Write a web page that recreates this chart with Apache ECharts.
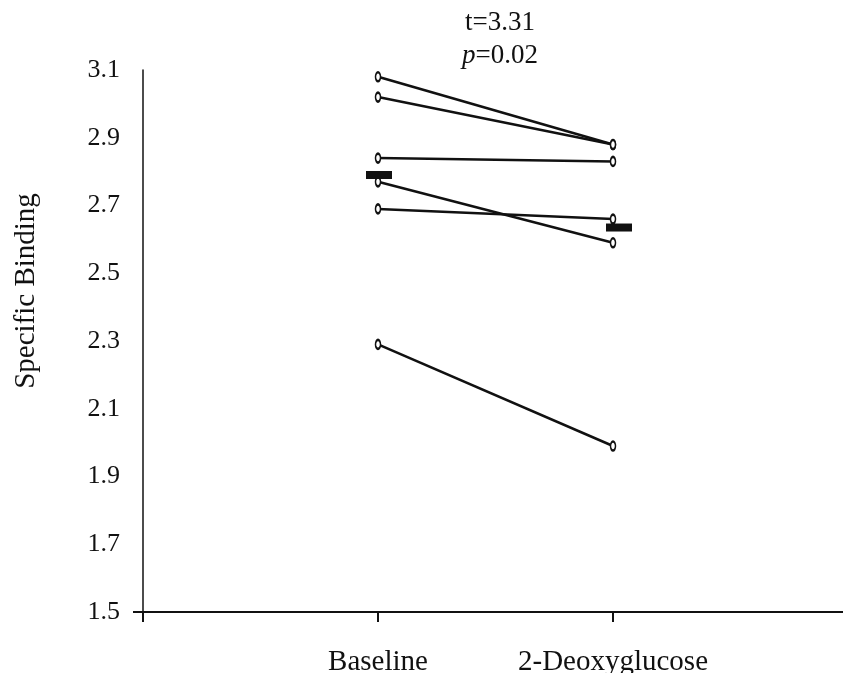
<!DOCTYPE html>
<html lang="en">
<head>
  <meta charset="UTF-8">
  <title>Specific Binding</title>
  <script src="https://cdn.jsdelivr.net/npm/echarts@6/dist/echarts.min.js"></script>
  <style>
    html, body { margin: 0; padding: 0; background: #fff; }
    #chart { width: 843px; height: 673px; }
  </style>
</head>
<body>
  <div id="chart"></div>
<script>
  // conditions along x (positions 1 and 2 on the axis)
  const conditions = ['Baseline', '2-Deoxyglucose'];
  // one value per subject
  const baseline = [3.08, 3.02, 2.84, 2.77, 2.69, 2.29];
  const deoxy = [2.88, 2.88, 2.83, 2.59, 2.66, 1.99];
  const means = [2.79, 2.635];
  const yTicks = [1.5, 1.7, 1.9, 2.1, 2.3, 2.5, 2.7, 2.9, 3.1];

  const font = '"Liberation Serif", "DejaVu Serif", serif';
  const ink = '#111';
  const chart = echarts.init(document.getElementById('chart'));

  const pairSeries = baseline.map((b, i) => ({
    type: 'line',
    data: [[1, b], [2, deoxy[i]]],
    symbol: 'emptyCircle',
    symbolSize: [5, 9],
    showSymbol: true,
    lineStyle: { color: ink, width: 2.5 },
    itemStyle: { color: ink, borderWidth: 1.3 },
    z: 3,
    silent: true
  }));

  chart.setOption({
    animation: false,
    grid: { left: 143, right: -5, top: 70, bottom: 61, outerBoundsMode: 'none' },
    graphic: [{
      type: 'text',
      x: 500,
      y: 6,
      style: {
        text: 't=3.31\n{i|p}=0.02',
        font: '27px ' + font,
        fill: ink,
        align: 'center',
        lineHeight: 33,
        rich: { i: { fontStyle: 'italic', fontSize: 27, fontFamily: font } }
      }
    }, {
      type: 'text',
      x: 26,
      y: 291,
      rotation: Math.PI / 2,
      style: {
        text: 'Specific Binding',
        font: '29px ' + font,
        fill: ink,
        align: 'center',
        verticalAlign: 'middle'
      }
    }],
    xAxis: {
      type: 'value',
      min: 0,
      max: 3,
      interval: 1,
      splitLine: { show: false },
      axisLine: { lineStyle: { color: ink, width: 2 } },
      axisTick: { show: true, length: 10, lineStyle: { color: ink, width: 2 } },
      axisLabel: {
        margin: 36,
        color: ink,
        fontFamily: font,
        fontSize: 29,
        formatter: v => conditions[v - 1] || ''
      }
    },
    yAxis: {
      type: 'value',
      min: 1.5,
      max: 3.1,
      interval: 0.2,
      splitLine: { show: false },
      axisLine: { show: true, lineStyle: { color: ink, width: 1.5 } },
      axisTick: { show: true, length: 10, customValues: [1.5], lineStyle: { color: ink, width: 2 } },
      axisLabel: {
        margin: 23,
        color: ink,
        fontFamily: font,
        fontSize: 26,
        customValues: yTicks,
        formatter: v => v.toFixed(1)
      }
    },
    series: pairSeries.concat([{
      type: 'scatter',
      symbol: 'rect',
      symbolSize: [26, 8],
      itemStyle: { color: ink, opacity: 1 },
      z: 4,
      silent: true,
      data: [
        { value: [1, means[0]], symbolOffset: [1, 0] },
        { value: [2, means[1]], symbolOffset: [6, 0] }
      ]
    }])
  });
</script>
</body>
</html>
